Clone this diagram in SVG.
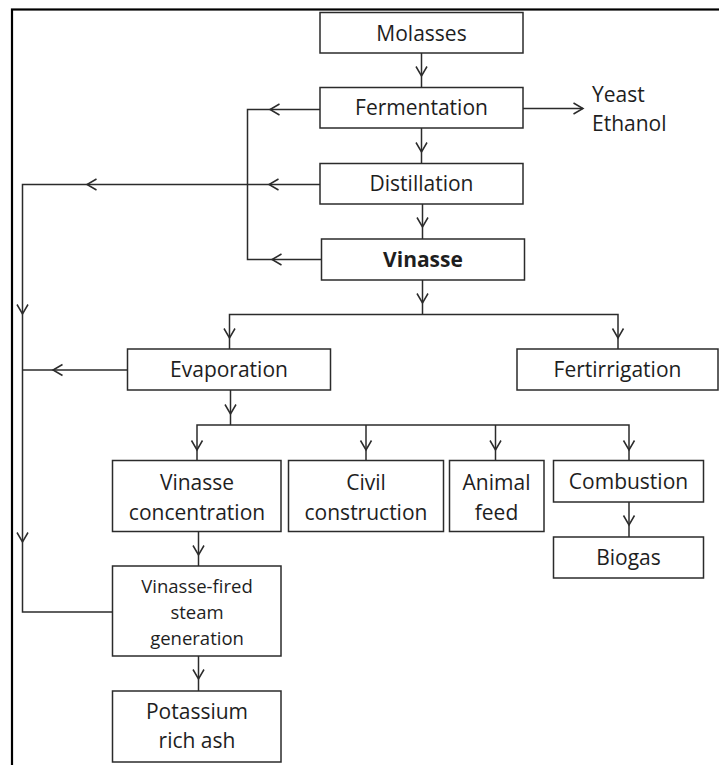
<svg xmlns="http://www.w3.org/2000/svg" xmlns:xlink="http://www.w3.org/1999/xlink" width="719" height="765" viewBox="0 0 719 765">
  <style>
    .box { fill: #ffffff; stroke: #2b2b2b; stroke-width: 1.5; }
    .ln { fill: none; stroke: #2b2b2b; stroke-width: 1.5; }
    .ah { fill: none; stroke: #2b2b2b; stroke-width: 1.5; stroke-linejoin: miter; }
    .t { font-family: "Open Sans", "Liberation Sans", sans-serif; font-size: 21px; fill: #1e1e1e; text-anchor: middle; }
    .ts { font-size: 18.5px; }
    .b { font-weight: bold; }
    .l { text-anchor: start; }
  </style>
  <defs>
    <path id="ah-down" class="ah" d="M-5.5,-9.5 L0,0 L5.5,-9.5"/>
    <path id="ah-left" class="ah" d="M9.5,-5.5 L0,0 L9.5,5.5"/>
    <path id="ah-right" class="ah" d="M-9.5,-5.5 L0,0 L-9.5,5.5"/>
  </defs>

  <rect x="0" y="0" width="719" height="765" fill="#ffffff"/>
  <!-- outer frame -->
  <rect x="12" y="9.5" width="720" height="780" fill="none" stroke="#000000" stroke-width="2.2"/>

  <g id="connectors">
    <path class="ln" d="M421.5,53 V87"/>
    <use href="#ah-down" x="421.5" y="76"/>
    <path class="ln" d="M421.5,128 V163"/>
    <use href="#ah-down" x="421.5" y="152"/>
    <path class="ln" d="M422.5,204 V239"/>
    <use href="#ah-down" x="422.5" y="227"/>

    <path class="ln" d="M523,108.5 H583"/>
    <use href="#ah-right" x="583" y="108.5"/>

    <!-- return line from fermentation and vinasse -->
    <path class="ln" d="M320,109.5 H247.5 V259.5 H321.5"/>
    <use href="#ah-left" x="270" y="109.5"/>
    <use href="#ah-left" x="272" y="259.5"/>

    <!-- distillation / evaporation line to steam generation -->
    <path class="ln" d="M320,184.5 H22.5 V612 H113"/>
    <use href="#ah-left" x="269" y="184.5"/>
    <use href="#ah-left" x="87" y="184.5"/>
    <use href="#ah-down" x="22.5" y="314"/>
    <use href="#ah-down" x="22.5" y="542"/>
    <path class="ln" d="M127.5,370 H22.5"/>
    <use href="#ah-left" x="53" y="370"/>

    <!-- vinasse split -->
    <path class="ln" d="M422.5,280 V314.5"/>
    <use href="#ah-down" x="422.5" y="303"/>
    <path class="ln" d="M229.5,349 V314.5 H618 V349"/>
    <use href="#ah-down" x="229.5" y="338"/>
    <use href="#ah-down" x="618" y="338"/>

    <!-- evaporation split -->
    <path class="ln" d="M230.5,390 V425"/>
    <use href="#ah-down" x="230.5" y="414"/>
    <path class="ln" d="M197,460.5 V425 H629 V460.5"/>
    <path class="ln" d="M366,425 V460.5"/>
    <path class="ln" d="M495.5,425 V460.5"/>
    <use href="#ah-down" x="197" y="450"/>
    <use href="#ah-down" x="366" y="450"/>
    <use href="#ah-down" x="495.5" y="450"/>
    <use href="#ah-down" x="629" y="450"/>

    <path class="ln" d="M629,502 V537"/>
    <use href="#ah-down" x="629" y="525"/>
    <path class="ln" d="M198.5,531.5 V566"/>
    <use href="#ah-down" x="198.5" y="555"/>
    <path class="ln" d="M198.5,656 V691"/>
    <use href="#ah-down" x="198.5" y="679"/>
  </g>

  <g id="molasses">
    <rect class="box" x="320" y="12.5" width="203" height="40.5"/>
    <text class="t" x="421.5" y="40.5">Molasses</text>
  </g>
  <g id="fermentation">
    <rect class="box" x="320" y="87.5" width="203" height="40.5"/>
    <text class="t" x="421.5" y="115">Fermentation</text>
  </g>
  <g id="yeast-ethanol">
    <text class="t l" x="592" y="101.5">Yeast</text>
    <text class="t l" x="592" y="130.5">Ethanol</text>
  </g>
  <g id="distillation">
    <rect class="box" x="320" y="163.5" width="203" height="40.5"/>
    <text class="t" x="421.5" y="191">Distillation</text>
  </g>
  <g id="vinasse">
    <rect class="box" x="321.5" y="239" width="203" height="41"/>
    <text class="t b" x="423" y="267">Vinasse</text>
  </g>
  <g id="evaporation">
    <rect class="box" x="127.5" y="349" width="203" height="41"/>
    <text class="t" x="229" y="377">Evaporation</text>
  </g>
  <g id="fertirrigation">
    <rect class="box" x="517" y="349" width="201" height="41"/>
    <text class="t" x="617.5" y="377">Fertirrigation</text>
  </g>
  <g id="vinasse-concentration">
    <rect class="box" x="112.5" y="460.5" width="168.5" height="71"/>
    <text class="t" x="197" y="490">Vinasse</text>
    <text class="t" x="197" y="519.5">concentration</text>
  </g>
  <g id="civil-construction">
    <rect class="box" x="288.5" y="460.5" width="155" height="71"/>
    <text class="t" x="366" y="490">Civil</text>
    <text class="t" x="366" y="519.5">construction</text>
  </g>
  <g id="animal-feed">
    <rect class="box" x="449.5" y="460.5" width="94.5" height="71"/>
    <text class="t" x="496.5" y="490">Animal</text>
    <text class="t" x="496.5" y="519.5">feed</text>
  </g>
  <g id="combustion">
    <rect class="box" x="553.5" y="460.5" width="150" height="41.5"/>
    <text class="t" x="628.5" y="489">Combustion</text>
  </g>
  <g id="biogas">
    <rect class="box" x="553.5" y="537" width="150" height="41"/>
    <text class="t" x="628.5" y="565">Biogas</text>
  </g>
  <g id="vinasse-fired-steam-generation">
    <rect class="box" x="112.5" y="566" width="168.5" height="90"/>
    <text class="t ts" x="197" y="592.5">Vinasse-fired</text>
    <text class="t ts" x="197" y="619">steam</text>
    <text class="t ts" x="197" y="644.5">generation</text>
  </g>
  <g id="potassium-rich-ash">
    <rect class="box" x="112.5" y="691" width="168.5" height="71"/>
    <text class="t" x="197" y="718.5">Potassium</text>
    <text class="t" x="197" y="748">rich ash</text>
  </g>
</svg>
